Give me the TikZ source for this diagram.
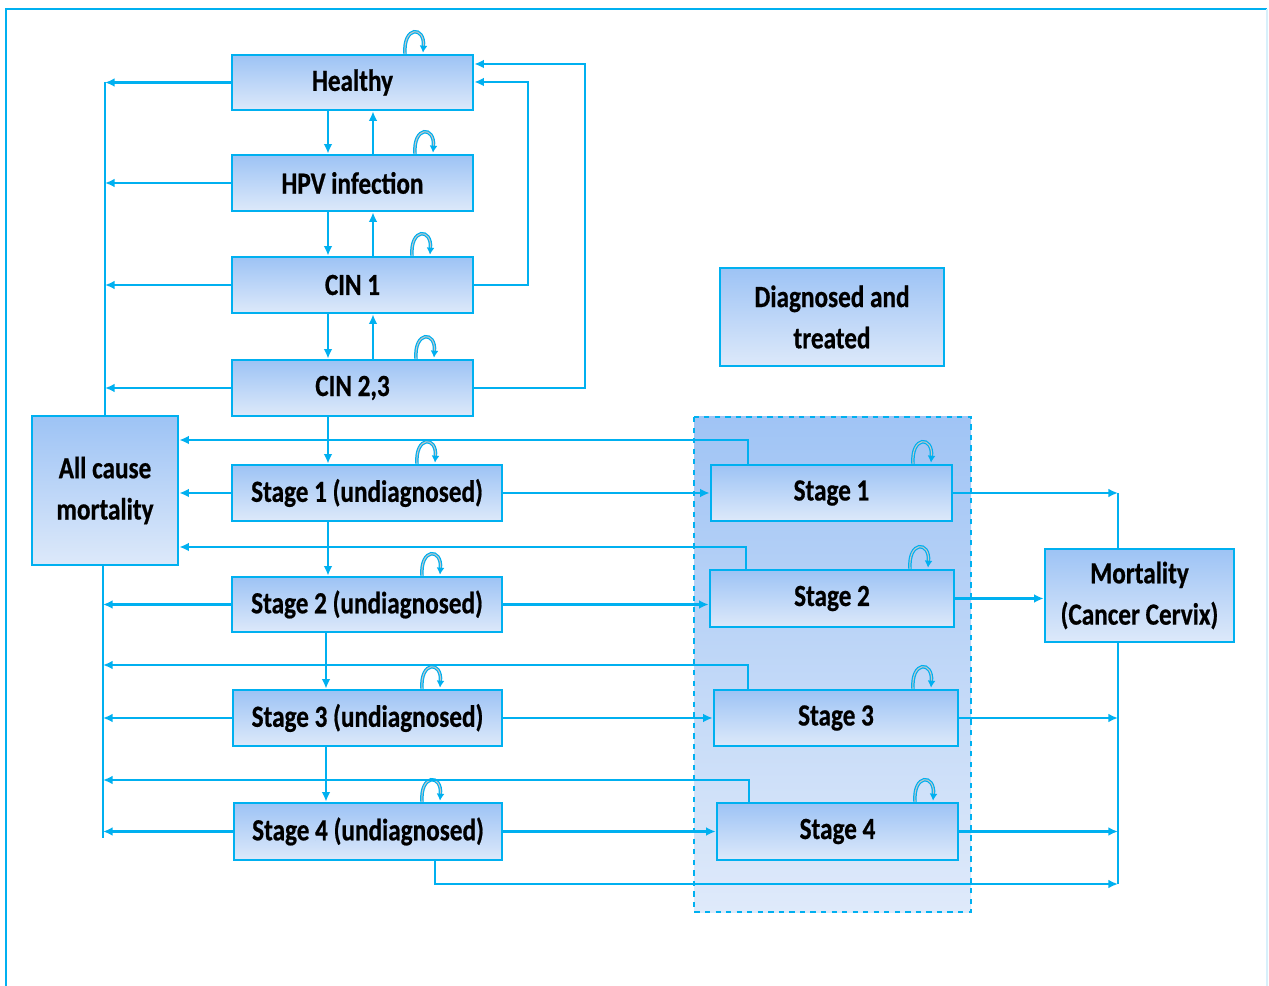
\documentclass[tikz,border=0pt]{standalone}
\usepackage{fontspec}
\setmainfont{Carlito}[FakeStretch=0.82,FakeBold=0.6]
\usetikzlibrary{arrows.meta,calc}
\definecolor{lineBlue}{HTML}{00B0F0}
\definecolor{boxTop}{HTML}{9DC3F5}
\definecolor{boxBottom}{HTML}{DDE9FA}
\definecolor{regionTop}{HTML}{A0C4F5}
\definecolor{regionBottom}{HTML}{DFEAFA}
\definecolor{frameLight}{HTML}{D8F0FB}
%% A small self loop on top of a box, #2 is the shift from the box centre.
\newcommand{\selfLoop}[2]{%%
  \draw[loopStyle] ($(#1.north)+(#2-9,0)$)
    .. controls ($(#1.north)+(#2-11,-28)$) and ($(#1.north)+(#2+11,-28)$)
    .. ($(#1.north)+(#2+9,-1)$);%%
}

\begin{document}
\begin{tikzpicture}[%%
  x=0.02cm,y=-0.02cm,%%
  boxStyle/.style={draw=lineBlue,line width=1.5pt,top color=boxTop,
    bottom color=boxBottom,inner sep=0pt,align=center,
    font=\fontsize{17.5}{23.5}\selectfont\bfseries},%%
  arrowStyle/.style={-{Latex[length=5.5pt,width=5pt]},lineBlue,line width=1.3pt},%%
  lineStyle/.style={-,lineBlue,line width=1.3pt},%%
  loopStyle/.style={-{Latex[length=4pt,width=4.5pt]},draw=lineBlue,
    double=gray!45,double distance=0.6pt,line width=0.7pt},%%
  regionStyle/.style={draw=lineBlue,dashed,line width=1.3pt,
    top color=regionTop,bottom color=regionBottom},%%
  frameStyle/.style={lineBlue,line width=1.6pt}%%
]
%%
\useasboundingbox (0,0) rectangle (1269,986);
%% Outer frame.
\draw[frameStyle] (6,986) -- (6,9) -- (1267,9);
\draw[frameStyle,frameLight] (1267,9) -- (1267,986);
%%
%% The diagnosed region.
\draw[regionStyle] (694,417) rectangle (971,912);
%%
%% Undiagnosed states.
\node[boxStyle,minimum width=4.82cm,minimum height=1.10cm] (healthy) at (352.5,82.5) {Healthy};
\node[boxStyle,minimum width=4.82cm,minimum height=1.12cm] (hpv) at (352.5,183) {HPV infection};
\node[boxStyle,minimum width=4.82cm,minimum height=1.12cm] (cinOne) at (352.5,285) {CIN 1};
\node[boxStyle,minimum width=4.82cm,minimum height=1.12cm] (cinTwo) at (352.5,388) {CIN 2,3};
\node[boxStyle,minimum width=5.40cm,minimum height=1.12cm] (stageOneU) at (367,493) {Stage 1 (undiagnosed)};
\node[boxStyle,minimum width=5.40cm,minimum height=1.10cm] (stageTwoU) at (367,604.5) {Stage 2 (undiagnosed)};
\node[boxStyle,minimum width=5.38cm,minimum height=1.12cm] (stageThreeU) at (367.5,718) {Stage 3 (undiagnosed)};
\node[boxStyle,minimum width=5.36cm,minimum height=1.14cm] (stageFourU) at (368,831.5) {Stage 4 (undiagnosed)};
%%
%% Mortality states.
\node[boxStyle,minimum width=2.92cm,minimum height=2.98cm] (allCause) at (105,490.5) {All cause\\mortality};
\node[boxStyle,minimum width=3.78cm,minimum height=1.86cm] (mortality) at (1139.5,595.5) {Mortality\\(Cancer Cervix)};
%%
%% Diagnosed states.
\node[boxStyle,minimum width=4.48cm,minimum height=1.96cm] (diagnosed) at (832,317) {Diagnosed and\\treated};
\node[boxStyle,minimum width=4.82cm,minimum height=1.12cm] (stageOne) at (831.5,493) {Stage 1};
\node[boxStyle,minimum width=4.88cm,minimum height=1.14cm] (stageTwo) at (832,598.5) {Stage 2};
\node[boxStyle,minimum width=4.88cm,minimum height=1.12cm] (stageThree) at (836,718) {Stage 3};
\node[boxStyle,minimum width=4.82cm,minimum height=1.14cm] (stageFour) at (837.5,831.5) {Stage 4};
%%
%% Columns and bends.
\coordinate (downCol) at (328,0);
\coordinate (downColB) at (326,0);
\coordinate (upCol) at (373,0);
\coordinate (topLine) at (105,82);
\coordinate (lowEnd) at (103,838);
\coordinate (rightCol) at (1118,0);
\coordinate (feedInner) at (528,82);
\coordinate (feedOuter) at (585,64);
\coordinate (backOne) at (748,440);
\coordinate (backTwo) at (746,547);
\coordinate (backThree) at (748,665);
\coordinate (backFour) at (749,780);
\coordinate (bypass) at (435,884);
%%
%% Progression down the left column.
\draw[arrowStyle] (healthy.south -| downCol) -- (hpv.north -| downCol);
\draw[arrowStyle] (hpv.south -| downCol) -- (cinOne.north -| downCol);
\draw[arrowStyle] (cinOne.south -| downCol) -- (cinTwo.north -| downCol);
\draw[arrowStyle] (cinTwo.south -| downCol) -- (stageOneU.north -| downCol);
\draw[arrowStyle] (stageOneU.south -| downCol) -- (stageTwoU.north -| downCol);
\draw[arrowStyle] (stageTwoU.south -| downColB) -- (stageThreeU.north -| downColB);
\draw[arrowStyle] (stageThreeU.south -| downColB) -- (stageFourU.north -| downColB);
%% Regression.
\draw[arrowStyle] (hpv.north -| upCol) -- (healthy.south -| upCol);
\draw[arrowStyle] (cinOne.north -| upCol) -- (hpv.south -| upCol);
\draw[arrowStyle] (cinTwo.north -| upCol) -- (cinOne.south -| upCol);
\draw[arrowStyle] (cinOne.east) -| (feedInner) -- (healthy.east |- feedInner);
\draw[arrowStyle] (cinTwo.east) -| (feedOuter) -- (healthy.east |- feedOuter);
%%
%% Self loops.
\selfLoop{healthy}{61.5}
\selfLoop{hpv}{71.5}
\selfLoop{cinOne}{68.5}
\selfLoop{cinTwo}{72.5}
\selfLoop{stageOneU}{59}
\selfLoop{stageTwoU}{64}
\selfLoop{stageThreeU}{63.5}
\selfLoop{stageFourU}{63}
\selfLoop{stageOne}{90.5}
\selfLoop{stageTwo}{87}
\selfLoop{stageThree}{86}
\selfLoop{stageFour}{86.5}
%%
%% All cause mortality.
\draw[lineStyle] (topLine) -- (allCause.north);
\draw[lineStyle,line width=1pt] (allCause.south -| lowEnd) -- (lowEnd);
\draw[arrowStyle] (healthy.west) -- (healthy.west -| topLine);
\draw[arrowStyle] (hpv.west) -- (hpv.west -| topLine);
\draw[arrowStyle] (cinOne.west) -- (cinOne.west -| topLine);
\draw[arrowStyle] (cinTwo.west) -- (cinTwo.west -| topLine);
\draw[arrowStyle] (stageOneU.west) -- (allCause.east |- stageOneU.west);
\draw[arrowStyle] (stageOne.north -| backOne) |- (allCause.east |- backOne);
\draw[arrowStyle] (stageTwo.north -| backTwo) |- (allCause.east |- backTwo);
\draw[arrowStyle] (stageTwoU.west) -- (stageTwoU.west -| lowEnd);
\draw[arrowStyle] (stageThree.north -| backThree) |- (lowEnd |- backThree);
\draw[arrowStyle] (stageThreeU.west) -- (stageThreeU.west -| lowEnd);
\draw[arrowStyle] (stageFour.north -| backFour) |- (lowEnd |- backFour);
\draw[arrowStyle] (stageFourU.west) -- (stageFourU.west -| lowEnd);
%%
%% Diagnosis.
\draw[arrowStyle] (stageOneU.east) -- (stageOne.west |- stageOneU.east);
\draw[arrowStyle] (stageTwoU.east) -- (stageTwo.west |- stageTwoU.east);
\draw[arrowStyle] (stageThreeU.east) -- (stageThree.west |- stageThreeU.east);
\draw[arrowStyle] (stageFourU.east) -- (stageFour.west |- stageFourU.east);
%%
%% Cancer mortality.
\draw[lineStyle] (mortality.north -| rightCol) -- (rightCol |- stageOne.east);
\draw[lineStyle] (mortality.south -| rightCol) -- (rightCol |- bypass);
\draw[arrowStyle] (stageOne.east) -- (rightCol |- stageOne.east);
\draw[arrowStyle] (stageTwo.east) -- (mortality.west |- stageTwo.east);
\draw[arrowStyle] (stageThree.east) -- (rightCol |- stageThree.east);
\draw[arrowStyle] (stageFour.east) -- (rightCol |- stageFour.east);
\draw[arrowStyle] (stageFourU.south -| bypass) |- (rightCol |- bypass);
\end{tikzpicture}
\end{document}
